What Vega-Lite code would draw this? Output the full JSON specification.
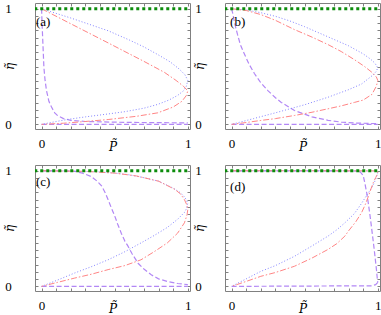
{
"$schema":"https://vega.github.io/schema/vega-lite/v6.json",
"padding":{"left":2,"top":2,"right":2,"bottom":0},
"bounds":"flush",
"spacing":{"row":36,"column":35},
"columns":2,
"config":{"view":{"stroke":"#808080","strokeWidth":1},
"axis":{"domain":false,"grid":false,"tickColor":"#808080","tickWidth":1,"labelFont":"Liberation Serif","labelFontSize":13,"labelColor":"#000","titleFont":"DejaVu Serif","titleFontSize":12,"titleFontWeight":"normal","titleFontStyle":"italic","titleColor":"#000","labelFlush":false,"labelOverlap":false}},
"data":{"values":[
{"p":"a","s":"m0","x":0,"y":0},{"p":"a","s":"m0","x":1,"y":0},
{"p":"a","s":"m","x":0,"y":1},{"p":"a","s":"m","x":0.004,"y":0.85},{"p":"a","s":"m","x":0.009,"y":0.7},{"p":"a","s":"m","x":0.016,"y":0.49},{"p":"a","s":"m","x":0.024,"y":0.38},{"p":"a","s":"m","x":0.034,"y":0.29},{"p":"a","s":"m","x":0.05,"y":0.2},{"p":"a","s":"m","x":0.068,"y":0.15},{"p":"a","s":"m","x":0.09,"y":0.1},{"p":"a","s":"m","x":0.11,"y":0.075},{"p":"a","s":"m","x":0.15,"y":0.05},{"p":"a","s":"m","x":0.2,"y":0.035},{"p":"a","s":"m","x":0.3,"y":0.025},{"p":"a","s":"m","x":0.5,"y":0.019},{"p":"a","s":"m","x":0.75,"y":0.015},{"p":"a","s":"m","x":1,"y":0.013},
{"p":"a","s":"b","x":0,"y":1},{"p":"a","s":"b","x":0.2,"y":0.92},{"p":"a","s":"b","x":0.455,"y":0.81},{"p":"a","s":"b","x":0.6,"y":0.73},{"p":"a","s":"b","x":0.7,"y":0.67},{"p":"a","s":"b","x":0.8,"y":0.6},{"p":"a","s":"b","x":0.88,"y":0.54},{"p":"a","s":"b","x":0.94,"y":0.48},{"p":"a","s":"b","x":0.98,"y":0.43},{"p":"a","s":"b","x":1,"y":0.38},{"p":"a","s":"b","x":0.99,"y":0.33},{"p":"a","s":"b","x":0.97,"y":0.29},{"p":"a","s":"b","x":0.93,"y":0.25},{"p":"a","s":"b","x":0.87,"y":0.21},{"p":"a","s":"b","x":0.795,"y":0.173},{"p":"a","s":"b","x":0.7,"y":0.14},{"p":"a","s":"b","x":0.57,"y":0.11},{"p":"a","s":"b","x":0.455,"y":0.09},{"p":"a","s":"b","x":0.3,"y":0.065},{"p":"a","s":"b","x":0.18,"y":0.043},{"p":"a","s":"b","x":0.1,"y":0.025},{"p":"a","s":"b","x":0,"y":0},
{"p":"a","s":"r","x":0,"y":1},{"p":"a","s":"r","x":0.2,"y":0.87},{"p":"a","s":"r","x":0.455,"y":0.705},{"p":"a","s":"r","x":0.6,"y":0.61},{"p":"a","s":"r","x":0.7,"y":0.545},{"p":"a","s":"r","x":0.84,"y":0.45},{"p":"a","s":"r","x":0.92,"y":0.38},{"p":"a","s":"r","x":0.97,"y":0.33},{"p":"a","s":"r","x":1,"y":0.29},{"p":"a","s":"r","x":0.99,"y":0.25},{"p":"a","s":"r","x":0.96,"y":0.2},{"p":"a","s":"r","x":0.9,"y":0.15},{"p":"a","s":"r","x":0.795,"y":0.1},{"p":"a","s":"r","x":0.65,"y":0.07},{"p":"a","s":"r","x":0.455,"y":0.042},{"p":"a","s":"r","x":0.3,"y":0.025},{"p":"a","s":"r","x":0.15,"y":0.01},{"p":"a","s":"r","x":0,"y":0},
{"p":"a","s":"g","x":-0.05,"y":1},{"p":"a","s":"g","x":1.02,"y":1},

{"p":"b","s":"m0","x":0,"y":0},{"p":"b","s":"m0","x":1,"y":0},
{"p":"b","s":"m","x":0,"y":1},{"p":"b","s":"m","x":0.01,"y":0.95},{"p":"b","s":"m","x":0.02,"y":0.88},{"p":"b","s":"m","x":0.04,"y":0.78},{"p":"b","s":"m","x":0.06,"y":0.69},{"p":"b","s":"m","x":0.087,"y":0.61},{"p":"b","s":"m","x":0.12,"y":0.52},{"p":"b","s":"m","x":0.156,"y":0.44},{"p":"b","s":"m","x":0.2,"y":0.36},{"p":"b","s":"m","x":0.25,"y":0.29},{"p":"b","s":"m","x":0.3,"y":0.23},{"p":"b","s":"m","x":0.34,"y":0.19},{"p":"b","s":"m","x":0.43,"y":0.12},{"p":"b","s":"m","x":0.55,"y":0.065},{"p":"b","s":"m","x":0.66,"y":0.035},{"p":"b","s":"m","x":0.75,"y":0.02},{"p":"b","s":"m","x":0.84,"y":0.012},{"p":"b","s":"m","x":1,"y":0.006},
{"p":"b","s":"b","x":0,"y":1},{"p":"b","s":"b","x":0.1,"y":0.99},{"p":"b","s":"b","x":0.2,"y":0.966},{"p":"b","s":"b","x":0.3,"y":0.935},{"p":"b","s":"b","x":0.4,"y":0.894},{"p":"b","s":"b","x":0.5,"y":0.845},{"p":"b","s":"b","x":0.6,"y":0.79},{"p":"b","s":"b","x":0.7,"y":0.735},{"p":"b","s":"b","x":0.8,"y":0.68},{"p":"b","s":"b","x":0.9,"y":0.61},{"p":"b","s":"b","x":0.95,"y":0.565},{"p":"b","s":"b","x":0.98,"y":0.53},{"p":"b","s":"b","x":1,"y":0.49},{"p":"b","s":"b","x":0.99,"y":0.46},{"p":"b","s":"b","x":0.97,"y":0.43},{"p":"b","s":"b","x":0.93,"y":0.39},{"p":"b","s":"b","x":0.89,"y":0.35},{"p":"b","s":"b","x":0.8,"y":0.3},{"p":"b","s":"b","x":0.66,"y":0.235},{"p":"b","s":"b","x":0.5,"y":0.17},{"p":"b","s":"b","x":0.3,"y":0.1},{"p":"b","s":"b","x":0.15,"y":0.05},{"p":"b","s":"b","x":0,"y":0},
{"p":"b","s":"r","x":0,"y":1},{"p":"b","s":"r","x":0.1,"y":0.985},{"p":"b","s":"r","x":0.2,"y":0.95},{"p":"b","s":"r","x":0.3,"y":0.9},{"p":"b","s":"r","x":0.43,"y":0.82},{"p":"b","s":"r","x":0.55,"y":0.755},{"p":"b","s":"r","x":0.66,"y":0.69},{"p":"b","s":"r","x":0.75,"y":0.63},{"p":"b","s":"r","x":0.84,"y":0.56},{"p":"b","s":"r","x":0.91,"y":0.5},{"p":"b","s":"r","x":0.96,"y":0.45},{"p":"b","s":"r","x":0.99,"y":0.41},{"p":"b","s":"r","x":1,"y":0.38},{"p":"b","s":"r","x":0.99,"y":0.33},{"p":"b","s":"r","x":0.96,"y":0.26},{"p":"b","s":"r","x":0.9,"y":0.21},{"p":"b","s":"r","x":0.84,"y":0.19},{"p":"b","s":"r","x":0.75,"y":0.16},{"p":"b","s":"r","x":0.66,"y":0.135},{"p":"b","s":"r","x":0.55,"y":0.105},{"p":"b","s":"r","x":0.43,"y":0.077},{"p":"b","s":"r","x":0.3,"y":0.05},{"p":"b","s":"r","x":0.2,"y":0.034},{"p":"b","s":"r","x":0.1,"y":0.016},{"p":"b","s":"r","x":0,"y":0},
{"p":"b","s":"g","x":-0.05,"y":1},{"p":"b","s":"g","x":1.02,"y":1},

{"p":"c","s":"m0","x":0,"y":0},{"p":"c","s":"m0","x":1,"y":0},
{"p":"c","s":"m","x":0,"y":1},{"p":"c","s":"m","x":0.15,"y":0.999},{"p":"c","s":"m","x":0.227,"y":0.995},{"p":"c","s":"m","x":0.28,"y":0.98},{"p":"c","s":"m","x":0.34,"y":0.95},{"p":"c","s":"m","x":0.38,"y":0.91},{"p":"c","s":"m","x":0.41,"y":0.87},{"p":"c","s":"m","x":0.435,"y":0.81},{"p":"c","s":"m","x":0.455,"y":0.75},{"p":"c","s":"m","x":0.48,"y":0.67},{"p":"c","s":"m","x":0.5,"y":0.61},{"p":"c","s":"m","x":0.52,"y":0.54},{"p":"c","s":"m","x":0.545,"y":0.46},{"p":"c","s":"m","x":0.57,"y":0.39},{"p":"c","s":"m","x":0.59,"y":0.35},{"p":"c","s":"m","x":0.62,"y":0.28},{"p":"c","s":"m","x":0.66,"y":0.2},{"p":"c","s":"m","x":0.7,"y":0.15},{"p":"c","s":"m","x":0.75,"y":0.1},{"p":"c","s":"m","x":0.8,"y":0.065},{"p":"c","s":"m","x":0.86,"y":0.043},{"p":"c","s":"m","x":0.93,"y":0.025},{"p":"c","s":"m","x":1,"y":0.015},
{"p":"c","s":"b","x":0,"y":1},{"p":"c","s":"b","x":0.2,"y":0.998},{"p":"c","s":"b","x":0.4,"y":0.99},{"p":"c","s":"b","x":0.5,"y":0.98},{"p":"c","s":"b","x":0.6,"y":0.965},{"p":"c","s":"b","x":0.7,"y":0.94},{"p":"c","s":"b","x":0.8,"y":0.91},{"p":"c","s":"b","x":0.9,"y":0.85},{"p":"c","s":"b","x":0.95,"y":0.81},{"p":"c","s":"b","x":0.98,"y":0.77},{"p":"c","s":"b","x":1,"y":0.72},{"p":"c","s":"b","x":0.99,"y":0.67},{"p":"c","s":"b","x":0.977,"y":0.64},{"p":"c","s":"b","x":0.93,"y":0.58},{"p":"c","s":"b","x":0.86,"y":0.51},{"p":"c","s":"b","x":0.77,"y":0.44},{"p":"c","s":"b","x":0.68,"y":0.376},{"p":"c","s":"b","x":0.57,"y":0.3},{"p":"c","s":"b","x":0.455,"y":0.23},{"p":"c","s":"b","x":0.34,"y":0.17},{"p":"c","s":"b","x":0.227,"y":0.116},{"p":"c","s":"b","x":0.11,"y":0.055},{"p":"c","s":"b","x":0,"y":0},
{"p":"c","s":"r","x":0,"y":1},{"p":"c","s":"r","x":0.3,"y":0.995},{"p":"c","s":"r","x":0.5,"y":0.98},{"p":"c","s":"r","x":0.65,"y":0.955},{"p":"c","s":"r","x":0.8,"y":0.91},{"p":"c","s":"r","x":0.91,"y":0.84},{"p":"c","s":"r","x":0.95,"y":0.8},{"p":"c","s":"r","x":0.977,"y":0.75},{"p":"c","s":"r","x":0.995,"y":0.7},{"p":"c","s":"r","x":1,"y":0.665},{"p":"c","s":"r","x":0.995,"y":0.62},{"p":"c","s":"r","x":0.977,"y":0.55},{"p":"c","s":"r","x":0.93,"y":0.46},{"p":"c","s":"r","x":0.86,"y":0.376},{"p":"c","s":"r","x":0.77,"y":0.3},{"p":"c","s":"r","x":0.68,"y":0.23},{"p":"c","s":"r","x":0.57,"y":0.18},{"p":"c","s":"r","x":0.455,"y":0.145},{"p":"c","s":"r","x":0.34,"y":0.105},{"p":"c","s":"r","x":0.227,"y":0.072},{"p":"c","s":"r","x":0.11,"y":0.035},{"p":"c","s":"r","x":0,"y":0},
{"p":"c","s":"g","x":-0.05,"y":1},{"p":"c","s":"g","x":1.02,"y":1},

{"p":"d","s":"m0","x":0,"y":0},{"p":"d","s":"m0","x":0.96,"y":0.005},{"p":"d","s":"m0","x":0.985,"y":0.015},{"p":"d","s":"m0","x":1,"y":0.035},
{"p":"d","s":"m","x":0,"y":1},{"p":"d","s":"m","x":0.5,"y":1},{"p":"d","s":"m","x":0.85,"y":0.998},{"p":"d","s":"m","x":0.88,"y":0.99},{"p":"d","s":"m","x":0.9,"y":0.96},{"p":"d","s":"m","x":0.912,"y":0.89},{"p":"d","s":"m","x":0.924,"y":0.81},{"p":"d","s":"m","x":0.935,"y":0.72},{"p":"d","s":"m","x":0.947,"y":0.61},{"p":"d","s":"m","x":0.958,"y":0.5},{"p":"d","s":"m","x":0.97,"y":0.377},{"p":"d","s":"m","x":0.978,"y":0.29},{"p":"d","s":"m","x":0.986,"y":0.2},{"p":"d","s":"m","x":0.992,"y":0.13},{"p":"d","s":"m","x":0.995,"y":0.087},{"p":"d","s":"m","x":0.998,"y":0.05},{"p":"d","s":"m","x":1,"y":0.035},
{"p":"d","s":"b","x":0,"y":1},{"p":"d","s":"b","x":0.5,"y":1},{"p":"d","s":"b","x":0.99,"y":0.998},{"p":"d","s":"b","x":1,"y":0.99},{"p":"d","s":"b","x":0.998,"y":0.97},{"p":"d","s":"b","x":0.993,"y":0.957},{"p":"d","s":"b","x":0.98,"y":0.91},{"p":"d","s":"b","x":0.96,"y":0.855},{"p":"d","s":"b","x":0.93,"y":0.8},{"p":"d","s":"b","x":0.89,"y":0.72},{"p":"d","s":"b","x":0.84,"y":0.63},{"p":"d","s":"b","x":0.775,"y":0.55},{"p":"d","s":"b","x":0.72,"y":0.49},{"p":"d","s":"b","x":0.66,"y":0.435},{"p":"d","s":"b","x":0.55,"y":0.35},{"p":"d","s":"b","x":0.43,"y":0.26},{"p":"d","s":"b","x":0.3,"y":0.18},{"p":"d","s":"b","x":0.2,"y":0.13},{"p":"d","s":"b","x":0.1,"y":0.065},{"p":"d","s":"b","x":0,"y":0},
{"p":"d","s":"r","x":0,"y":1},{"p":"d","s":"r","x":0.5,"y":1},{"p":"d","s":"r","x":0.99,"y":0.999},{"p":"d","s":"r","x":1,"y":0.99},{"p":"d","s":"r","x":0.998,"y":0.975},{"p":"d","s":"r","x":0.993,"y":0.96},{"p":"d","s":"r","x":0.985,"y":0.94},{"p":"d","s":"r","x":0.97,"y":0.9},{"p":"d","s":"r","x":0.955,"y":0.85},{"p":"d","s":"r","x":0.936,"y":0.78},{"p":"d","s":"r","x":0.915,"y":0.71},{"p":"d","s":"r","x":0.89,"y":0.64},{"p":"d","s":"r","x":0.85,"y":0.56},{"p":"d","s":"r","x":0.8,"y":0.48},{"p":"d","s":"r","x":0.775,"y":0.435},{"p":"d","s":"r","x":0.72,"y":0.37},{"p":"d","s":"r","x":0.66,"y":0.32},{"p":"d","s":"r","x":0.55,"y":0.245},{"p":"d","s":"r","x":0.43,"y":0.174},{"p":"d","s":"r","x":0.3,"y":0.12},{"p":"d","s":"r","x":0.2,"y":0.087},{"p":"d","s":"r","x":0.1,"y":0.043},{"p":"d","s":"r","x":0,"y":0},
{"p":"d","s":"g","x":-0.05,"y":1},{"p":"d","s":"g","x":1.02,"y":1}
]},
"concat":[
{"width":155,"height":126,"layer":[
{"transform":[{"filter":"datum.p=='a'"}],"mark":{"type":"line","clip":true},"encoding":{
"x":{"field":"x","type":"quantitative","scale":{"domain":[-0.045,1.015],"nice":false,"zero":false},"axis":{"orient":"bottom","values":[0,0.1,0.2,0.3,0.4,0.5,0.6,0.7,0.8,0.9,1],"labelExpr":"datum.value==0?'0':datum.value==1?'1':''","title":"P̃","tickSize":-3,"labelPadding":11,"titleY":21,"titleBaseline":"alphabetic"}},
"y":{"field":"y","type":"quantitative","scale":{"domain":[-0.04,1.05],"nice":false,"zero":false},"axis":{"orient":"left","values":[0,0.0625,0.125,0.1875,0.25,0.3125,0.375,0.4375,0.5,0.5625,0.625,0.6875,0.75,0.8125,0.875,0.9375,1],"labelExpr":"datum.value==0?'0':datum.value==1?'1':''","title":"η̃","tickSize":-3,"labelPadding":30,"labelAlign":"center","titleX":-19,"titleY":63}},
"color":{"field":"s","type":"nominal","scale":{"domain":["g","b","r","m","m0"],"range":["#0c8c0c","#8585ff","#ff8585","#b287f5","#b287f5"]},"legend":null},
"strokeDash":{"field":"s","type":"nominal","scale":{"domain":["g","b","r","m","m0"],"range":[[3,3],[1,2],[6,2,1.5,2],[5,2.5],[5,2.5]]},"legend":null},
"strokeWidth":{"field":"s","type":"nominal","scale":{"type":"ordinal","domain":["g","b","r","m","m0"],"range":[3,1,1,1.2,1.2]},"legend":null},
"order":{"value":null}}},
{"transform":[{"filter":"datum.p=='a'"}],"mark":{"type":"point","opacity":0},"encoding":{
"x":{"field":"x","type":"quantitative","scale":{"domain":[-0.045,1.015],"nice":false,"zero":false},"axis":{"orient":"top","values":[0,0.1,0.2,0.3,0.4,0.5,0.6,0.7,0.8,0.9,1],"labels":false,"title":null,"tickSize":-3}},
"y":{"field":"y","type":"quantitative","scale":{"domain":[-0.04,1.05],"nice":false,"zero":false},"axis":{"orient":"right","values":[0,0.0625,0.125,0.1875,0.25,0.3125,0.375,0.4375,0.5,0.5625,0.625,0.6875,0.75,0.8125,0.875,0.9375,1],"labels":false,"title":null,"tickSize":-3}}}},
{"data":{"values":[{"t":"(a)"}]},"mark":{"type":"text","align":"left","baseline":"middle","fontSize":13,"font":"Liberation Serif"},"encoding":{
"x":{"datum":-0.038,"type":"quantitative","scale":{"domain":[-0.045,1.015],"nice":false,"zero":false},"axis":null},
"y":{"datum":0.885,"type":"quantitative","scale":{"domain":[-0.04,1.05],"nice":false,"zero":false},"axis":null},
"text":{"field":"t"}}}
],"resolve":{"axis":{"x":"independent","y":"independent"}}},
{"width":155,"height":126,"layer":[
{"transform":[{"filter":"datum.p=='b'"}],"mark":{"type":"line","clip":true},"encoding":{
"x":{"field":"x","type":"quantitative","scale":{"domain":[-0.045,1.015],"nice":false,"zero":false},"axis":{"orient":"bottom","values":[0,0.1,0.2,0.3,0.4,0.5,0.6,0.7,0.8,0.9,1],"labelExpr":"datum.value==0?'0':datum.value==1?'1':''","title":"P̃","tickSize":-3,"labelPadding":11,"titleY":21,"titleBaseline":"alphabetic"}},
"y":{"field":"y","type":"quantitative","scale":{"domain":[-0.04,1.05],"nice":false,"zero":false},"axis":{"orient":"left","values":[0,0.0625,0.125,0.1875,0.25,0.3125,0.375,0.4375,0.5,0.5625,0.625,0.6875,0.75,0.8125,0.875,0.9375,1],"labelExpr":"datum.value==0?'0':datum.value==1?'1':''","title":"η̃","tickSize":-3,"labelPadding":30,"labelAlign":"center","titleX":-19,"titleY":63}},
"color":{"field":"s","type":"nominal","scale":{"domain":["g","b","r","m","m0"],"range":["#0c8c0c","#8585ff","#ff8585","#b287f5","#b287f5"]},"legend":null},
"strokeDash":{"field":"s","type":"nominal","scale":{"domain":["g","b","r","m","m0"],"range":[[3,3],[1,2],[6,2,1.5,2],[5,2.5],[5,2.5]]},"legend":null},
"strokeWidth":{"field":"s","type":"nominal","scale":{"type":"ordinal","domain":["g","b","r","m","m0"],"range":[3,1,1,1.2,1.2]},"legend":null},
"order":{"value":null}}},
{"transform":[{"filter":"datum.p=='b'"}],"mark":{"type":"point","opacity":0},"encoding":{
"x":{"field":"x","type":"quantitative","scale":{"domain":[-0.045,1.015],"nice":false,"zero":false},"axis":{"orient":"top","values":[0,0.1,0.2,0.3,0.4,0.5,0.6,0.7,0.8,0.9,1],"labels":false,"title":null,"tickSize":-3}},
"y":{"field":"y","type":"quantitative","scale":{"domain":[-0.04,1.05],"nice":false,"zero":false},"axis":{"orient":"right","values":[0,0.0625,0.125,0.1875,0.25,0.3125,0.375,0.4375,0.5,0.5625,0.625,0.6875,0.75,0.8125,0.875,0.9375,1],"labels":false,"title":null,"tickSize":-3}}}},
{"data":{"values":[{"t":"(b)"}]},"mark":{"type":"text","align":"left","baseline":"middle","fontSize":13,"font":"Liberation Serif"},"encoding":{
"x":{"datum":-0.01,"type":"quantitative","scale":{"domain":[-0.045,1.015],"nice":false,"zero":false},"axis":null},
"y":{"datum":0.885,"type":"quantitative","scale":{"domain":[-0.04,1.05],"nice":false,"zero":false},"axis":null},
"text":{"field":"t"}}}
],"resolve":{"axis":{"x":"independent","y":"independent"}}},
{"width":155,"height":126,"layer":[
{"transform":[{"filter":"datum.p=='c'"}],"mark":{"type":"line","clip":true},"encoding":{
"x":{"field":"x","type":"quantitative","scale":{"domain":[-0.045,1.015],"nice":false,"zero":false},"axis":{"orient":"bottom","values":[0,0.1,0.2,0.3,0.4,0.5,0.6,0.7,0.8,0.9,1],"labelExpr":"datum.value==0?'0':datum.value==1?'1':''","title":"P̃","tickSize":-3,"labelPadding":11,"titleY":21,"titleBaseline":"alphabetic"}},
"y":{"field":"y","type":"quantitative","scale":{"domain":[-0.04,1.05],"nice":false,"zero":false},"axis":{"orient":"left","values":[0,0.0625,0.125,0.1875,0.25,0.3125,0.375,0.4375,0.5,0.5625,0.625,0.6875,0.75,0.8125,0.875,0.9375,1],"labelExpr":"datum.value==0?'0':datum.value==1?'1':''","title":"η̃","tickSize":-3,"labelPadding":30,"labelAlign":"center","titleX":-19,"titleY":63}},
"color":{"field":"s","type":"nominal","scale":{"domain":["g","b","r","m","m0"],"range":["#0c8c0c","#8585ff","#ff8585","#b287f5","#b287f5"]},"legend":null},
"strokeDash":{"field":"s","type":"nominal","scale":{"domain":["g","b","r","m","m0"],"range":[[3,3],[1,2],[6,2,1.5,2],[5,2.5],[5,2.5]]},"legend":null},
"strokeWidth":{"field":"s","type":"nominal","scale":{"type":"ordinal","domain":["g","b","r","m","m0"],"range":[3,1,1,1.2,1.2]},"legend":null},
"order":{"value":null}}},
{"transform":[{"filter":"datum.p=='c'"}],"mark":{"type":"point","opacity":0},"encoding":{
"x":{"field":"x","type":"quantitative","scale":{"domain":[-0.045,1.015],"nice":false,"zero":false},"axis":{"orient":"top","values":[0,0.1,0.2,0.3,0.4,0.5,0.6,0.7,0.8,0.9,1],"labels":false,"title":null,"tickSize":-3}},
"y":{"field":"y","type":"quantitative","scale":{"domain":[-0.04,1.05],"nice":false,"zero":false},"axis":{"orient":"right","values":[0,0.0625,0.125,0.1875,0.25,0.3125,0.375,0.4375,0.5,0.5625,0.625,0.6875,0.75,0.8125,0.875,0.9375,1],"labels":false,"title":null,"tickSize":-3}}}},
{"data":{"values":[{"t":"(c)"}]},"mark":{"type":"text","align":"left","baseline":"middle","fontSize":13,"font":"Liberation Serif"},"encoding":{
"x":{"datum":-0.038,"type":"quantitative","scale":{"domain":[-0.045,1.015],"nice":false,"zero":false},"axis":null},
"y":{"datum":0.9,"type":"quantitative","scale":{"domain":[-0.04,1.05],"nice":false,"zero":false},"axis":null},
"text":{"field":"t"}}}
],"resolve":{"axis":{"x":"independent","y":"independent"}}},
{"width":155,"height":126,"layer":[
{"transform":[{"filter":"datum.p=='d'"}],"mark":{"type":"line","clip":true},"encoding":{
"x":{"field":"x","type":"quantitative","scale":{"domain":[-0.045,1.015],"nice":false,"zero":false},"axis":{"orient":"bottom","values":[0,0.1,0.2,0.3,0.4,0.5,0.6,0.7,0.8,0.9,1],"labelExpr":"datum.value==0?'0':datum.value==1?'1':''","title":"P̃","tickSize":-3,"labelPadding":11,"titleY":21,"titleBaseline":"alphabetic"}},
"y":{"field":"y","type":"quantitative","scale":{"domain":[-0.04,1.05],"nice":false,"zero":false},"axis":{"orient":"left","values":[0,0.0625,0.125,0.1875,0.25,0.3125,0.375,0.4375,0.5,0.5625,0.625,0.6875,0.75,0.8125,0.875,0.9375,1],"labelExpr":"datum.value==0?'0':datum.value==1?'1':''","title":"η̃","tickSize":-3,"labelPadding":30,"labelAlign":"center","titleX":-19,"titleY":63}},
"color":{"field":"s","type":"nominal","scale":{"domain":["g","b","r","m","m0"],"range":["#0c8c0c","#8585ff","#ff8585","#b287f5","#b287f5"]},"legend":null},
"strokeDash":{"field":"s","type":"nominal","scale":{"domain":["g","b","r","m","m0"],"range":[[3,3],[1,2],[6,2,1.5,2],[5,2.5],[5,2.5]]},"legend":null},
"strokeWidth":{"field":"s","type":"nominal","scale":{"type":"ordinal","domain":["g","b","r","m","m0"],"range":[3,1,1,1.2,1.2]},"legend":null},
"order":{"value":null}}},
{"transform":[{"filter":"datum.p=='d'"}],"mark":{"type":"point","opacity":0},"encoding":{
"x":{"field":"x","type":"quantitative","scale":{"domain":[-0.045,1.015],"nice":false,"zero":false},"axis":{"orient":"top","values":[0,0.1,0.2,0.3,0.4,0.5,0.6,0.7,0.8,0.9,1],"labels":false,"title":null,"tickSize":-3}},
"y":{"field":"y","type":"quantitative","scale":{"domain":[-0.04,1.05],"nice":false,"zero":false},"axis":{"orient":"right","values":[0,0.0625,0.125,0.1875,0.25,0.3125,0.375,0.4375,0.5,0.5625,0.625,0.6875,0.75,0.8125,0.875,0.9375,1],"labels":false,"title":null,"tickSize":-3}}}},
{"data":{"values":[{"t":"(d)"}]},"mark":{"type":"text","align":"left","baseline":"middle","fontSize":13,"font":"Liberation Serif"},"encoding":{
"x":{"datum":-0.01,"type":"quantitative","scale":{"domain":[-0.045,1.015],"nice":false,"zero":false},"axis":null},
"y":{"datum":0.86,"type":"quantitative","scale":{"domain":[-0.04,1.05],"nice":false,"zero":false},"axis":null},
"text":{"field":"t"}}}
],"resolve":{"axis":{"x":"independent","y":"independent"}}}
]
}
